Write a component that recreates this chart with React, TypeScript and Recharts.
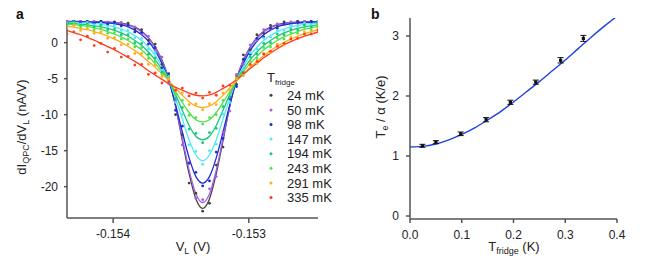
import React from 'react';
import { ComposedChart, Line, Scatter, XAxis, YAxis, ErrorBar } from 'recharts';

// panel a: V_L grid (V), 50 uV steps
const VL = [
  -0.15434, -0.15429, -0.15424, -0.15419, -0.15414, -0.15409, -0.15404, -0.15399, -0.15394, -0.15389,
  -0.15384, -0.15379, -0.15374, -0.15369, -0.15364, -0.15359, -0.15354, -0.15349, -0.15344, -0.15339,
  -0.15334, -0.15329, -0.15324, -0.15319, -0.15314, -0.15309, -0.15304, -0.15299, -0.15294, -0.15289,
  -0.15284, -0.15279, -0.15274, -0.15269, -0.15264, -0.15259, -0.15254, -0.15249,
];

const TEMPS = ['24 mK', '50 mK', '98 mK', '147 mK', '194 mK', '243 mK', '291 mK', '335 mK'];
const COLORS = ['#444444', '#a45ee8', '#1a2ed6', '#4aeaf6', '#18c878', '#4ee448', '#ffad1a', '#ff3d1c'];

// fitted curves, nA/V
const FIT_24 = [2.95, 2.95, 2.94, 2.93, 2.92, 2.9, 2.86, 2.8, 2.7, 2.5, 2.15, 1.6, 0.7, -0.6, -2.4, -5.0, -8.8, -13.6, -18.2, -21.7, -23.0, -21.7, -18.2, -13.6, -8.8, -5.0, -2.4, -0.6, 0.7, 1.6, 2.15, 2.5, 2.7, 2.8, 2.86, 2.9, 2.92, 2.93];
const FIT_50 = [2.93, 2.93, 2.92, 2.91, 2.9, 2.88, 2.84, 2.77, 2.65, 2.45, 2.1, 1.5, 0.6, -0.7, -2.5, -5.0, -8.7, -13.3, -17.7, -21.0, -22.2, -21.0, -17.7, -13.3, -8.7, -5.0, -2.5, -0.7, 0.6, 1.5, 2.1, 2.45, 2.65, 2.77, 2.84, 2.88, 2.9, 2.91];
const FIT_98 = [2.9, 2.9, 2.89, 2.87, 2.85, 2.8, 2.72, 2.62, 2.45, 2.2, 1.75, 1.1, 0.2, -1.1, -2.9, -5.3, -8.6, -12.4, -16.0, -18.6, -19.5, -18.6, -16.0, -12.4, -8.6, -5.3, -2.9, -1.1, 0.2, 1.1, 1.75, 2.2, 2.45, 2.62, 2.72, 2.8, 2.85, 2.87];
const FIT_147 = [2.85, 2.82, 2.78, 2.72, 2.65, 2.55, 2.4, 2.2, 1.9, 1.5, 1.0, 0.3, -0.6, -1.8, -3.3, -5.2, -7.7, -10.6, -13.5, -15.6, -16.4, -15.6, -13.5, -10.6, -7.7, -5.2, -3.3, -1.8, -0.6, 0.3, 1.0, 1.5, 1.9, 2.2, 2.4, 2.55, 2.65, 2.72];
const FIT_194 = [2.7, 2.65, 2.58, 2.48, 2.35, 2.2, 2.0, 1.7, 1.35, 0.9, 0.3, -0.4, -1.3, -2.4, -3.7, -5.3, -7.2, -9.4, -11.5, -13.0, -13.5, -13.0, -11.5, -9.4, -7.2, -5.3, -3.7, -2.4, -1.3, -0.4, 0.3, 0.9, 1.35, 1.7, 2.0, 2.2, 2.35, 2.48];
const FIT_243 = [2.6, 2.5, 2.4, 2.25, 2.05, 1.85, 1.55, 1.2, 0.8, 0.3, -0.3, -1.0, -1.9, -2.9, -4.0, -5.3, -6.8, -8.3, -9.7, -10.7, -11.0, -10.7, -9.7, -8.3, -6.8, -5.3, -4.0, -2.9, -1.9, -1.0, -0.3, 0.3, 0.8, 1.2, 1.55, 1.85, 2.05, 2.25];
const FIT_291 = [2.3, 2.15, 2.0, 1.8, 1.55, 1.25, 0.9, 0.5, 0.05, -0.5, -1.1, -1.8, -2.6, -3.4, -4.3, -5.3, -6.3, -7.3, -8.2, -8.8, -9.0, -8.8, -8.2, -7.3, -6.3, -5.3, -4.3, -3.4, -2.6, -1.8, -1.1, -0.5, 0.05, 0.5, 0.9, 1.25, 1.55, 1.8];
const FIT_335 = [1.7, 1.4, 1.1, 0.75, 0.35, -0.1, -0.55, -1.0, -1.5, -2.05, -2.6, -3.2, -3.9, -4.5, -5.1, -5.7, -6.2, -6.6, -7.0, -7.3, -7.4, -7.25, -6.9, -6.35, -5.8, -5.15, -4.4, -3.6, -2.85, -2.1, -1.45, -0.85, -0.3, 0.15, 0.55, 0.9, 1.2, 1.45];

// measured points, nA/V
const PTS_24 = [2.8, 3.1, 2.9, 3.0, 2.8, 3.0, 2.7, 2.9, 2.5, 2.7, 1.9, 1.8, 0.3, -0.2, -3.0, -4.3, -10.0, -12.8, -19.5, -20.9, -23.4, -22.3, -17.0, -14.5, -7.6, -5.8, -1.7, -1.0, 1.1, 1.3, 2.4, 2.3, 2.9, 2.7, 3.0, 2.8, 3.0, 2.9];
const PTS_50 = [3.0, 2.8, 3.0, 2.8, 3.0, 2.7, 2.9, 2.6, 2.8, 2.3, 2.2, 1.2, 0.9, -1.1, -2.0, -5.7, -8.0, -14.2, -16.8, -21.6, -21.8, -20.3, -18.6, -12.4, -9.5, -4.4, -3.0, -0.3, 0.3, 1.8, 1.9, 2.6, 2.5, 2.9, 2.7, 3.0, 2.8, 3.0];
const PTS_98 = [2.7, 3.0, 2.8, 2.9, 2.7, 2.9, 2.6, 2.8, 2.3, 2.4, 1.5, 1.4, -0.2, -0.7, -3.5, -4.6, -9.4, -11.6, -16.7, -18.0, -19.9, -19.2, -15.2, -13.3, -7.8, -6.1, -2.3, -1.6, 0.6, 0.8, 2.0, 2.0, 2.6, 2.5, 2.8, 2.7, 2.9, 2.8];
const PTS_147 = [2.7, 2.9, 2.6, 2.8, 2.5, 2.7, 2.2, 2.4, 1.7, 1.7, 0.7, 0.6, -0.9, -1.4, -3.8, -4.7, -8.3, -10.0, -14.2, -15.1, -16.9, -15.0, -14.1, -9.9, -8.3, -4.6, -3.8, -1.4, -0.9, 0.6, 0.8, 1.7, 1.7, 2.4, 2.3, 2.7, 2.5, 2.8];
const PTS_194 = [2.5, 2.8, 2.4, 2.6, 2.2, 2.4, 1.8, 1.9, 1.1, 1.1, 0.0, -0.1, -1.6, -2.1, -4.1, -4.9, -7.7, -9.0, -12.0, -12.6, -13.9, -12.5, -11.9, -8.9, -7.6, -4.9, -4.1, -2.0, -1.6, -0.1, 0.0, 1.2, 1.1, 1.9, 1.8, 2.4, 2.2, 2.6];
const PTS_243 = [2.4, 2.7, 2.2, 2.4, 1.8, 2.0, 1.3, 1.4, 0.5, 0.5, -0.6, -0.7, -2.2, -2.6, -4.4, -5.0, -7.2, -8.0, -10.1, -10.4, -11.3, -10.4, -10.0, -8.0, -7.1, -5.0, -4.3, -2.6, -2.2, -0.7, -0.6, 0.6, 0.5, 1.4, 1.3, 2.1, 1.8, 2.5];
const PTS_291 = [2.1, 2.4, 1.7, 2.0, 1.3, 1.5, 0.6, 0.7, -0.3, -0.2, -1.5, -1.5, -3.0, -3.1, -4.7, -5.0, -6.7, -7.0, -8.6, -8.5, -9.3, -8.5, -8.6, -7.0, -6.6, -5.0, -4.6, -3.1, -2.9, -1.5, -1.4, -0.2, -0.3, 0.8, 0.6, 1.5, 1.3, 2.0];
const PTS_335 = [1.2, 1.5, 0.4, 0.9, -0.4, -0.1, -1.3, -0.8, -2.0, -1.9, -3.1, -3.0, -4.4, -4.2, -5.6, -5.4, -6.6, -6.3, -7.4, -7.0, -7.7, -6.9, -7.3, -6.0, -5.9, -4.6, -4.2, -3.0, -2.6, -1.6, -1.2, -0.5, -0.1, 0.5, 0.6, 1.2, 1.2, 1.7];

const FITS = [FIT_24, FIT_50, FIT_98, FIT_147, FIT_194, FIT_243, FIT_291, FIT_335];
const POINTS = [PTS_24, PTS_50, PTS_98, PTS_147, PTS_194, PTS_243, PTS_291, PTS_335];

const VL_TICKS = [-0.154, -0.153];
const DIDV_TICKS = [-20, -15, -10, -5, 0];

// panel b
const T_FRIDGE = [0.024, 0.05, 0.098, 0.147, 0.194, 0.243, 0.291, 0.335];
const TE = [1.17, 1.23, 1.37, 1.605, 1.895, 2.23, 2.595, 2.96];
const TE_ERR = [0.025, 0.025, 0.03, 0.035, 0.035, 0.035, 0.045, 0.05];
const T_CURVE = [0, 0.025, 0.05, 0.075, 0.1, 0.125, 0.15, 0.175, 0.2, 0.225, 0.25, 0.275, 0.3, 0.325, 0.35, 0.375, 0.4];
const TE_CURVE = [1.15, 1.16, 1.2, 1.27, 1.36, 1.47, 1.6, 1.74, 1.9, 2.07, 2.24, 2.42, 2.6, 2.79, 2.98, 3.16, 3.33];
const T_TICKS = [0, 0.1, 0.2, 0.3, 0.4];
const TE_TICKS = [0, 1, 2, 3];

const FONT = '"Liberation Sans", Arial, sans-serif';
const AXIS = { stroke: '#555', strokeWidth: 1.5 };
const TICK = { fill: '#222', fontSize: 12, fontFamily: FONT };

const fitData = FITS.map((ys) => ys.map((y, i) => ({ x: VL[i], y })));
const ptData = POINTS.map((ys) => ys.map((y, i) => ({ x: VL[i], y })));
const teData = T_FRIDGE.map((t, i) => ({ x: t, y: TE[i], err: TE_ERR[i] }));
const teCurve = T_CURVE.map((t, i) => ({ x: t, y: TE_CURVE[i] }));

function Dot(color: string, r: number) {
  return (p: any) => <circle cx={p.cx} cy={p.cy} r={r} fill={color} />;
}

function Square(p: any) {
  return <rect x={p.cx - 1.6} y={p.cy - 1.6} width={3.2} height={3.2} fill="#111" />;
}

export default function App() {
  return (
    <div style={{ position: 'absolute', left: 0, top: 0, width: 651, height: 263, background: '#fff', fontFamily: FONT }}>
      <div style={{ position: 'absolute', left: 0, top: 0 }}>
        <ComposedChart width={330} height={263} margin={{ top: 20, right: 12, bottom: 0, left: 0 }}>
          <XAxis
            type="number"
            dataKey="x"
            domain={[-0.15434, -0.15249]}
            allowDataOverflow
            ticks={VL_TICKS}
            interval={0}
            tickFormatter={(v: number) => v.toFixed(3)}
            axisLine={AXIS}
            tickLine={AXIS}
            tickSize={5}
            tickMargin={6}
            height={45}
            tick={TICK}
          />
          <YAxis
            type="number"
            dataKey="y"
            domain={[-24.35, 3.15]}
            allowDataOverflow
            ticks={DIDV_TICKS}
            interval={0}
            axisLine={AXIS}
            tickLine={AXIS}
            tickSize={3}
            tickMargin={6}
            width={67}
            tick={TICK}
          />
          {TEMPS.map((t, k) => (
            <Scatter
              key={'p' + t}
              data={ptData[k]}
              fill={COLORS[k]}
              shape={Dot(COLORS[k], 1.4)}
              isAnimationActive={false}
            />
          ))}
          {TEMPS.map((t, k) => (
            <Line
              key={'f' + t}
              data={fitData[k]}
              dataKey="y"
              type="monotone"
              stroke={COLORS[k]}
              strokeWidth={1.3}
              dot={false}
              activeDot={false}
              isAnimationActive={false}
            />
          ))}
        </ComposedChart>
      </div>

      <div style={{ position: 'absolute', left: 330, top: 0 }}>
        <ComposedChart width={321} height={263} margin={{ top: 18, right: 34, bottom: 0, left: 0 }}>
          <XAxis
            type="number"
            dataKey="x"
            domain={[0, 0.4]}
            allowDataOverflow
            ticks={T_TICKS}
            interval={0}
            tickFormatter={(v: number) => v.toFixed(1)}
            axisLine={AXIS}
            tickLine={AXIS}
            tickSize={4}
            tickMargin={7}
            height={44}
            tick={TICK}
          />
          <YAxis
            type="number"
            dataKey="y"
            domain={[-0.05, 3.3]}
            allowDataOverflow
            ticks={TE_TICKS}
            interval={0}
            axisLine={AXIS}
            tickLine={AXIS}
            tickSize={4}
            tickMargin={7}
            width={80}
            tick={TICK}
          />
          <Line
            data={teCurve}
            dataKey="y"
            type="monotone"
            stroke="#1f3fe0"
            strokeWidth={1.4}
            dot={false}
            activeDot={false}
            isAnimationActive={false}
          />
          <Scatter data={teData} fill="#111" shape={Square} isAnimationActive={false}>
            <ErrorBar dataKey="err" direction="y" width={3} stroke="#111" strokeWidth={1} />
          </Scatter>
        </ComposedChart>
      </div>

      <svg width={651} height={263} style={{ position: 'absolute', left: 0, top: 0, pointerEvents: 'none' }} fontFamily={FONT}>
        <text x={16} y={19} fontSize={14} fontWeight="bold" fill="#111">a</text>
        <text x={371} y={19} fontSize={14} fontWeight="bold" fill="#111">b</text>

        <text transform="translate(26,127) rotate(-90)" textAnchor="middle" fontSize={13} fill="#222">
          dI<tspan fontSize={9} dy={3}>QPC</tspan>
          <tspan dy={-3}>/dV</tspan>
          <tspan fontSize={9} dy={3}>L</tspan>
          <tspan dy={-3}> (nA/V)</tspan>
        </text>
        <text x={193} y={251} textAnchor="middle" fontSize={13} fill="#222">
          V<tspan fontSize={9} dy={3}>L</tspan>
          <tspan dy={-3}> (V)</tspan>
        </text>

        <text x={267} y={82} fontSize={13} fill="#222">
          T<tspan fontSize={8} dy={3}>fridge</tspan>
        </text>
        {TEMPS.map((t, k) => (
          <g key={t}>
            <circle cx={271} cy={95.3 + 14.6 * k} r={1.5} fill={COLORS[k]} />
            <text x={287} y={95.3 + 14.6 * k + 4.6} fontSize={13} fill="#222">{t}</text>
          </g>
        ))}

        <text transform="translate(385,107) rotate(-90)" textAnchor="middle" fontSize={13} fill="#222">
          T<tspan fontSize={9} dy={3}>e</tspan>
          <tspan dy={-3}> / α (K/e)</tspan>
        </text>
        <text x={514} y={251} textAnchor="middle" fontSize={13} fill="#222">
          T<tspan fontSize={9} dy={3}>fridge</tspan>
          <tspan dy={-3}> (K)</tspan>
        </text>
      </svg>
    </div>
  );
}
